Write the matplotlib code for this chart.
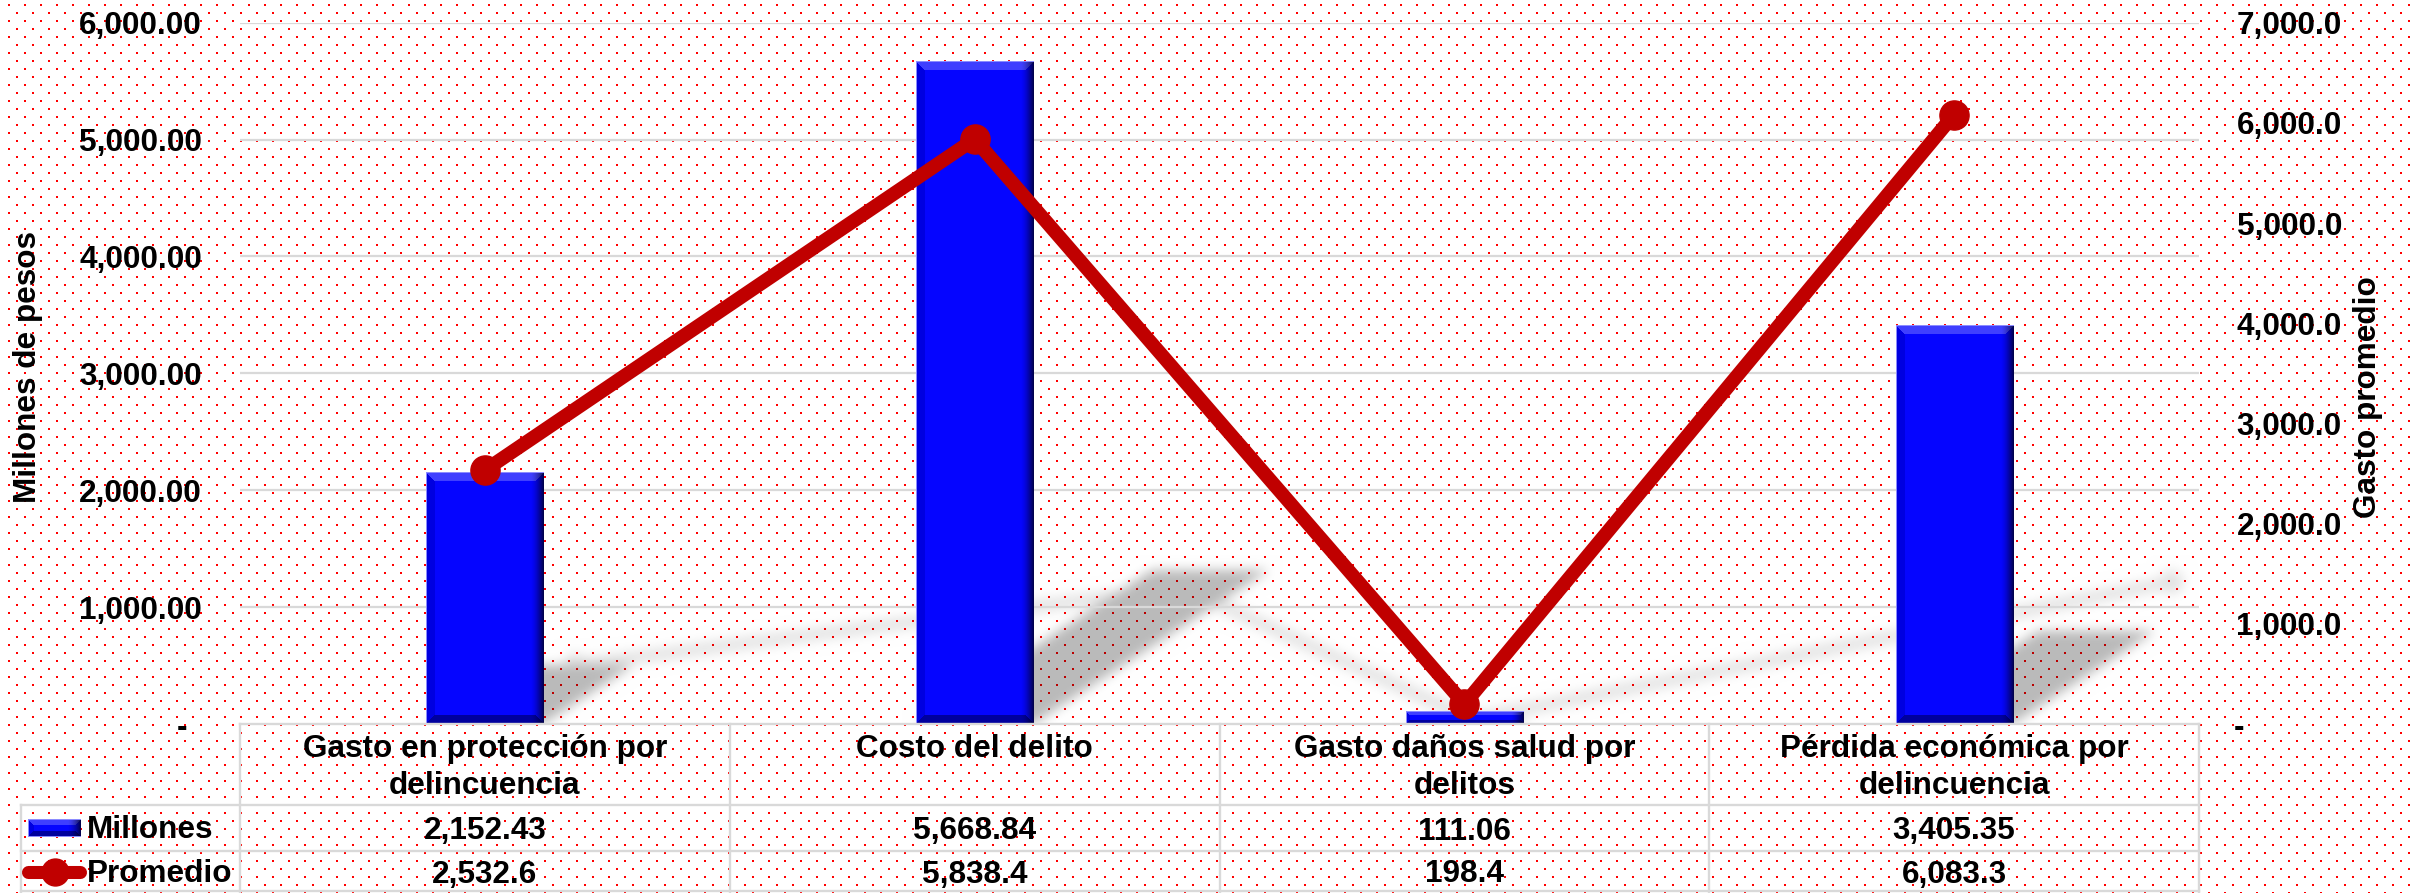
import numpy as np
import matplotlib
matplotlib.use('Agg')
import matplotlib.pyplot as plt
import matplotlib.transforms as mtransforms
from matplotlib.path import Path
from matplotlib.lines import Line2D

# datos
categorias = ['Gasto en protección por\ndelincuencia', 'Costo del delito',
              'Gasto daños salud por\ndelitos', 'Pérdida económica por\ndelincuencia']
millones = [2152.43, 5668.84, 111.06, 3405.35]
promedio = [2532.6, 5838.4, 198.4, 6083.3]
ticks_izq = [1000, 2000, 3000, 4000, 5000, 6000]
ticks_der = [1000, 2000, 3000, 4000, 5000, 6000, 7000]

W, H = 2410, 893
AZUL = '#0000FF'
ROJO = '#C00000'
GRIS = '#D9D9D9'
FS = 22.7

plt.rcParams['font.family'] = ['Liberation Sans', 'DejaVu Sans']
plt.rcParams['font.weight'] = 'bold'


def bisel(w, h):
    # relleno azul con bordes biselados
    img = np.empty((h, w, 3))
    img[:] = (0.02, 0.02, 1.0)
    b = max(1, min(9, h // 3))
    r, c = np.mgrid[0:h, 0:w]
    img[(c < b) & (r >= c) & (r < h - c)] = (0.0, 0.0, 0.88)
    img[(r < b) & (c >= r) & (c < w - r)] = (0.25, 0.25, 1.0)
    img[(r >= h - b) & (c >= h - 1 - r) & (c < w - (h - 1 - r))] = (0.0, 0.0, 0.62)
    g = 14
    t = np.clip((c - (w - g)) / g, 0, 1)
    img = img * (1 - 0.78 * t ** 1.6)[..., None]
    img[0, :] = img[-1, :] = (0.55, 0.55, 1.0)
    img[:, 0] = (0.55, 0.55, 1.0)
    return img


def pintar(mask, poly, alpha):
    pts = np.array(poly, dtype=float)
    pts[:, 1] = H - pts[:, 1]
    xa, ya = np.floor(pts.min(0)).astype(int)
    xb, yb = np.ceil(pts.max(0)).astype(int)
    xa, ya = max(xa, 0), max(ya, 0)
    xb, yb = min(xb, W), min(yb, H)
    if xb <= xa or yb <= ya:
        return
    gx, gy = np.meshgrid(np.arange(xa, xb) + 0.5, np.arange(ya, yb) + 0.5)
    dentro = Path(pts).contains_points(np.column_stack([gx.ravel(), gy.ravel()])).reshape(gx.shape)
    sub = mask[ya:yb, xa:xb]
    sub[dentro] = np.maximum(sub[dentro], alpha)


def caja(m, r, axis):
    pad = [(0, 0), (0, 0)]
    pad[axis] = (r + 1, r)
    c = np.cumsum(np.pad(m, pad), axis=axis)
    n = m.shape[axis]
    hi = np.take(c, np.arange(2 * r + 1, 2 * r + 1 + n), axis=axis)
    lo = np.take(c, np.arange(0, n), axis=axis)
    return (hi - lo) / (2 * r + 1)


fig = plt.figure(figsize=(W / 100, H / 100), dpi=100)
fig.patch.set_facecolor('white')

# area del grafico en pixeles
px0, px1, pyt, pyb = 240, 2199, 22.7, 724
ax = fig.add_axes([px0 / W, 1 - pyb / H, (px1 - px0) / W, (pyb - pyt) / H])
ax2 = ax.twinx()
ax.set_zorder(1)
ax2.set_zorder(2)
ax.patch.set_visible(False)
ax2.patch.set_visible(False)

xs = np.arange(len(categorias))
barras = ax.bar(xs, millones, width=0.239, color=AZUL, zorder=2)

px_y = (pyb - pyt) / 6000
px_x = (px1 - px0) / 4
for b in barras:
    hp = max(int(round(b.get_height() * px_y)), 3)
    wp = int(round(b.get_width() * px_x))
    ax.imshow(bisel(wp, hp), extent=(b.get_x(), b.get_x() + b.get_width(), 0, b.get_height()),
              aspect='auto', interpolation='nearest', zorder=3)

ax2.plot(xs, promedio, color=ROJO, lw=10, marker='o', ms=21, solid_capstyle='round',
         solid_joinstyle='round', zorder=3)

ax.set_xlim(-0.5, 3.5)
ax.set_ylim(0, 6000)
ax2.set_ylim(0, 7000)
ax.set_xticks([])

ax.set_yticks(ticks_izq)
ax.set_yticklabels([f'{v:,.2f}' for v in ticks_izq], fontsize=FS, fontweight='bold')
ax.tick_params(axis='y', length=0, pad=27.4)
ax2.set_yticks(ticks_der)
ax2.set_yticklabels([f'{v:,.1f}' for v in ticks_der], fontsize=FS, fontweight='bold')
ax2.tick_params(axis='y', length=0, pad=27)
ax.grid(axis='y', color=GRIS, lw=1.6)
for a in (ax, ax2):
    for s in a.spines.values():
        s.set_visible(False)

# etiquetas del cero
t_izq = mtransforms.blended_transform_factory(ax.transAxes, ax.transData)
ax.text((187 - px0) / (px1 - px0), 0, '-', transform=t_izq, ha='right', va='center_baseline',
        fontsize=FS, fontweight='bold', clip_on=False)
ax.text((2234 - px0) / (px1 - px0), 0, '-', transform=t_izq, ha='left', va='center_baseline',
        fontsize=FS, fontweight='bold', clip_on=False)

fig.text(28 / W, 1 - 367 / H, 'Millones de pesos', rotation=90, ha='center', va='center',
         fontsize=FS, fontweight='bold')
fig.text(2368 / W, 1 - 397 / H, 'Gasto promedio', rotation=90, ha='center', va='center',
         fontsize=FS, fontweight='bold')

# tabla de datos
alto = pyb - pyt
ay = lambda py: (pyb - py) / alto
t_tab = mtransforms.blended_transform_factory(ax.transData, ax.transAxes)
for i, cat in enumerate(categorias):
    ax.text(xs[i], ay(734), cat, transform=t_tab, ha='center', va='top', fontsize=FS,
            fontweight='bold', linespacing=1.3, clip_on=False)
    ax.text(xs[i], ay(828), f'{millones[i]:,.2f}', transform=t_tab, ha='center',
            va='center_baseline', fontsize=FS, fontweight='bold', clip_on=False)
    ax.text(xs[i], ay(871), f'{promedio[i]:,.1f}', transform=t_tab, ha='center',
            va='center_baseline', fontsize=FS, fontweight='bold', clip_on=False)

fx = lambda px: px / W
fy = lambda py: 1 - py / H
lin = dict(color=GRIS, lw=1.7, transform=fig.transFigure, zorder=3)
fig.add_artist(Line2D([fx(px0), fx(px1)], [fy(pyb), fy(pyb)], **lin))
for py in (805, 851, 891):
    fig.add_artist(Line2D([fx(21), fx(px1)], [fy(py), fy(py)], **lin))
fig.add_artist(Line2D([fx(21), fx(21)], [fy(805), fy(893)], **lin))
for xb in np.arange(-0.5, len(categorias), 1.0):
    ax.plot([xb, xb], [0, ay(893)], color=GRIS, lw=1.7, transform=t_tab, clip_on=False, zorder=3)

# claves de la leyenda dentro de la tabla
fig.text(fx(87), fy(827), 'Millones', ha='left', va='center_baseline', fontsize=FS, fontweight='bold')
fig.text(fx(87), fy(871), 'Promedio', ha='left', va='center_baseline', fontsize=FS, fontweight='bold')
fig.figimage(bisel(53, 18), xo=28, yo=H - 837, origin='upper', zorder=3)
fig.add_artist(Line2D([fx(28), fx(80)], [fy(872), fy(872)], color=ROJO, lw=9.4,
                      solid_capstyle='round', transform=fig.transFigure, zorder=3))
fig.add_artist(Line2D([fx(55)], [fy(872)], color=ROJO, marker='o', ms=19.4, lw=0,
                      transform=fig.transFigure, zorder=3))

# sombras (barras y linea) proyectadas hacia arriba a la derecha
sombra = np.zeros((H, W))
kx, ky = 0.357, 0.233
for b in barras:
    (xl, y0), (xr, yt) = ax.transData.transform([(b.get_x(), 0), (b.get_x() + b.get_width(), b.get_height())])
    h = yt - y0
    pintar(sombra, [(xl, y0), (xr, y0), (xr + kx * h, y0 + ky * h), (xl + kx * h, y0 + ky * h)], 0.27)

pts = ax2.transData.transform(np.column_stack([xs, promedio]))
base = ax2.transData.transform((0, 0))[1]
proy = np.column_stack([pts[:, 0] + kx * (pts[:, 1] - base), base + ky * (pts[:, 1] - base)])
for p, q in zip(proy[:-1], proy[1:]):
    d = q - p
    n = np.array([-d[1], d[0]]) / np.hypot(*d) * 6
    pintar(sombra, [p + n, q + n, q - n, p - n], 0.11)
ang = np.linspace(0, 2 * np.pi, 40)
for p in proy:
    pintar(sombra, np.column_stack([p[0] + 12 * np.cos(ang), p[1] + 12 * np.sin(ang)]), 0.11)

for _ in range(3):
    sombra = caja(caja(sombra, 5, 0), 5, 1)
sombra[int(pyb):, :] = 0
sombra[:, :px0] = 0
sombra[:, px1:] = 0

# fondo con puntos rojos
fondo = np.ones((H, W, 3))
for fila, y in enumerate(range(4, H, 8)):
    s = 8 + (8 if fila % 2 else 0)
    for dx in (0, 1):
        fondo[y:y + 2, s + dx::16] = (1.0, 0.0, 0.0)
fondo = fondo * (1 - sombra[..., None])
fig.figimage(fondo, xo=0, yo=0, origin='upper', zorder=0)

fig.savefig('out.png', dpi=100)
